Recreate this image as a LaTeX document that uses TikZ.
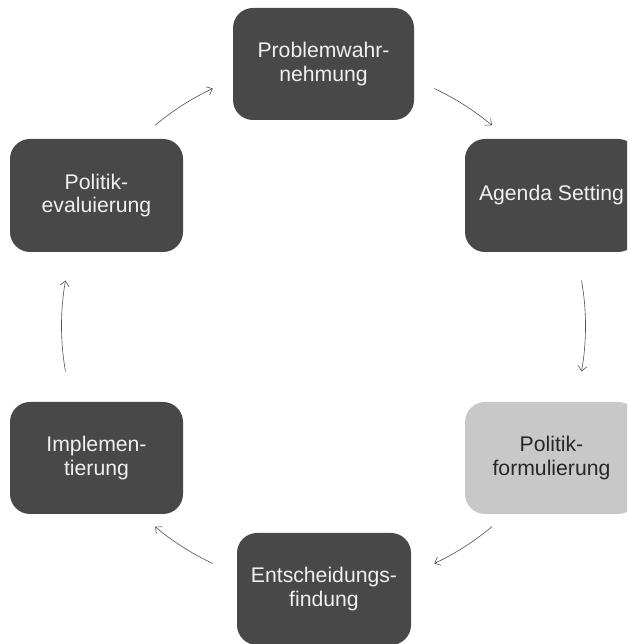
\documentclass[tikz,border=0pt]{standalone}
\usepackage{fontspec}
\setmainfont{Liberation Sans}
\usetikzlibrary{arrows.meta,calc}
\definecolor{darkbox}{HTML}{484848}
\definecolor{lightbox}{HTML}{C8C8C8}
\definecolor{arrowgray}{HTML}{505050}
\begin{document}
\begin{tikzpicture}[x=1pt,y=1pt,
  stage/.style={rectangle,rounded corners=20pt,minimum width=173pt,minimum height=112pt,
    inner sep=0pt,align=center,font=\fontsize{21.2}{23.5}\selectfont},
  darkstage/.style={stage,fill=darkbox,text=white!94!black},
  lightstage/.style={stage,fill=lightbox,text=black!85},
  cyc/.style={draw=arrowgray,line width=0.6pt,-{Straight Barb[length=5pt,width=9pt,line width=0.6pt]}}]
\clip (0,0) rectangle (627,644);
\fill[white] (0,0) rectangle (627,644);
\coordinate (C) at (323.5,318);
\node[darkstage,minimum width=181pt] (prob) at (323.5,580) {Problemwahr-\\nehmung};
\node[darkstage,minimum height=113pt] (agenda) at (551.5,448.5) {Agenda Setting};
\node[lightstage] (form) at (551.5,186) {Politik-\\formulierung};
\node[darkstage,minimum width=174pt] (ents) at (324,55) {Entscheidungs-\\findung};
\node[darkstage] (impl) at (96.5,186) {Implemen-\\tierung};
\node[darkstage,minimum height=113pt] (eval) at (96.5,448.5) {Politik-\\evaluierung};
\coordinate (a1) at ($(C)+(65:262pt)$);
\coordinate (a2) at ($(C)+(10:262pt)$);
\coordinate (a3) at ($(C)+(-50:262pt)$);
\coordinate (a4) at ($(C)+(-115:262pt)$);
\coordinate (a5) at ($(C)+(190:262pt)$);
\coordinate (a6) at ($(C)+(130:262pt)$);
\draw[cyc] (a1) arc[start angle=65,end angle=50,radius=262pt];
\draw[cyc] (a2) arc[start angle=10,end angle=-10,radius=262pt];
\draw[cyc] (a3) arc[start angle=-50,end angle=-65,radius=262pt];
\draw[cyc] (a4) arc[start angle=-115,end angle=-130,radius=262pt];
\draw[cyc] (a5) arc[start angle=190,end angle=170,radius=262pt];
\draw[cyc] (a6) arc[start angle=130,end angle=115,radius=262pt];
\end{tikzpicture}
\end{document}
